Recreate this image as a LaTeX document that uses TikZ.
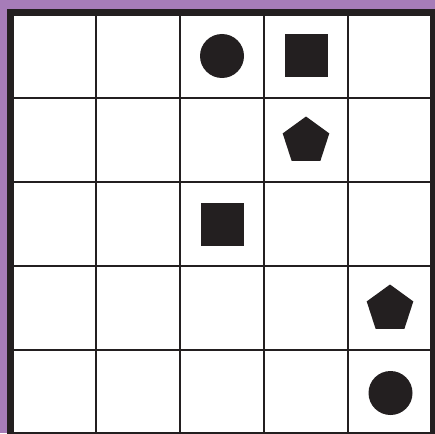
\documentclass[tikz,border=0pt]{standalone}
\usetikzlibrary{shapes.geometric}
\definecolor{purp}{HTML}{A67CB8}
\definecolor{ink}{HTML}{231F20}
\tikzset{
  gridline/.style={draw=ink, line width=1.4pt},
  frameline/.style={draw=ink, line width=7pt},
  dot/.style={circle, fill=ink, inner sep=0pt, minimum size=44pt},
  sq/.style={rectangle, fill=ink, inner sep=0pt, minimum size=43pt},
  pent/.style={regular polygon, regular polygon sides=5, fill=ink, inner sep=0pt, minimum size=49pt}
}
\begin{document}
\begin{tikzpicture}[x=1pt,y=-1pt]
\useasboundingbox (0,0) rectangle (435,433);
\fill[purp] (0,0) rectangle (435,433);
\fill[white] (7,9) rectangle (440,440);
% grid
\foreach \i in {96,180,264,348} {
  \draw[gridline] (\i,12) -- (\i,436);
  \draw[gridline] (10,\i+2) -- (436,\i+2);
}
\draw[frameline] (10.5,12.5) rectangle (433.5,435);
% shapes
\node[dot] (c1) at (222,56) {};
\node[sq] (s1) at (306,56) {};
\node[pent] (p1) at (306,141) {};
\node[sq] (s2) at (222,224) {};
\node[pent] (p2) at (390,309) {};
\node[dot] (c2) at (390.5,393) {};
\end{tikzpicture}
\end{document}
